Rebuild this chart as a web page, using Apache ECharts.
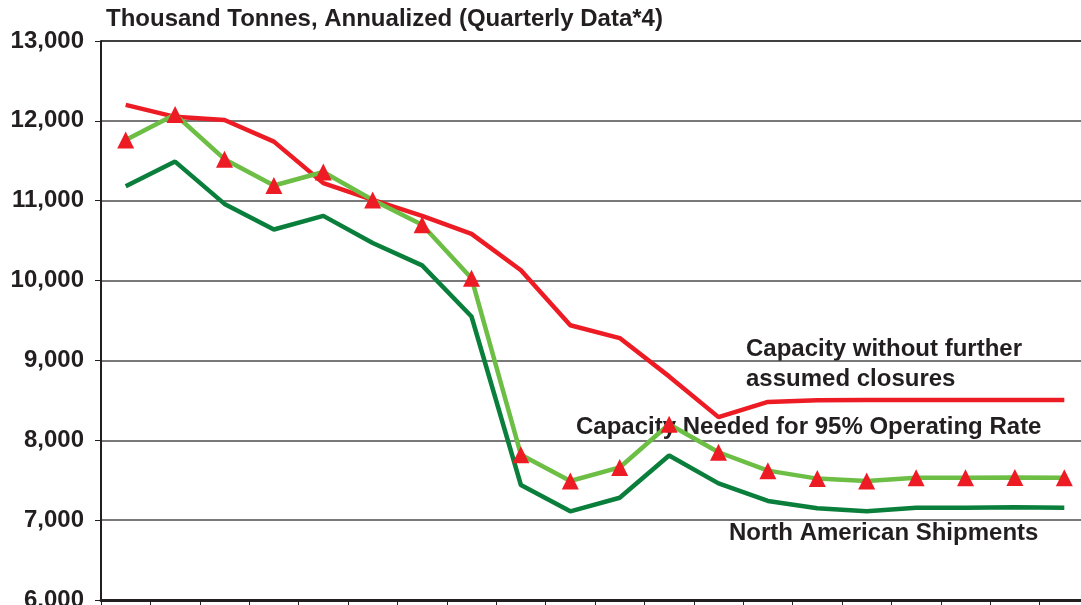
<!DOCTYPE html>
<html>
<head>
<meta charset="utf-8">
<script src="https://cdn.jsdelivr.net/npm/echarts@6/dist/echarts.min.js"></script>
<style>
  html, body { margin: 0; padding: 0; background: #fff; }
  #chart { width: 1081px; height: 605px; }
</style>
</head>
<body>
<div id="chart"></div>
<script>
// quarters (no labels shown in the source)
var quarters = ['Q1','Q2','Q3','Q4','Q5','Q6','Q7','Q8','Q9','Q10',
                'Q11','Q12','Q13','Q14','Q15','Q16','Q17','Q18','Q19','Q20'];

var capacity = [12200, 12050, 12010, 11740, 11220, 11010, 10810, 10585, 10130, 9440,
                9280, 8800, 8290, 8480, 8500, 8505, 8505, 8505, 8505, 8505];
var needed95 = [11760, 12080, 11520, 11190, 11360, 11010, 10700, 10030, 7820, 7490,
                7660, 8200, 7850, 7620, 7520, 7490, 7530, 7530, 7535, 7530];
var shipments = [11180, 11490, 10960, 10640, 10810, 10470, 10190, 9550, 7440, 7110,
                 7280, 7810, 7460, 7240, 7150, 7110, 7155, 7155, 7160, 7155];

var yTicks = [6000, 7000, 8000, 9000, 10000, 11000, 12000, 13000];

var dom = document.getElementById('chart');
var myChart = echarts.init(dom);
var font = '"Liberation Sans", Arial, sans-serif';

var option = {
    animation: false,
    backgroundColor: '#fff',
    grid: {
        left: 101,
        right: -8,
        top: 41,
        bottom: 5,
        outerBoundsMode: 'none'
    },
    xAxis: {
        type: 'category',
        data: quarters,
        boundaryGap: true,
        axisLine: { lineStyle: { color: '#231f20', width: 3 } },
        axisTick: { show: true, interval: 0, length: 6, lineStyle: { color: '#231f20' } },
        axisLabel: { show: false }
    },
    yAxis: {
        type: 'value',
        min: yTicks[0],
        max: yTicks[yTicks.length - 1],
        interval: 1000,
        axisLine: { show: true, lineStyle: { color: '#231f20', width: 2 } },
        axisTick: { show: true, length: 6, lineStyle: { color: '#231f20' } },
        splitLine: { lineStyle: { color: '#4d4d4d', width: 1.5 } },
        axisLabel: {
            margin: 17,
            color: '#231f20',
            fontFamily: font,
            fontWeight: 'bold',
            fontSize: 24,
            formatter: function (v) { return v.toLocaleString('en-US'); }
        }
    },
    graphic: [
        { type: 'text', left: 106, top: 7,
          style: { text: 'Thousand Tonnes, Annualized (Quarterly Data*4)', fill: '#231f20',
                   font: 'bold 24px ' + font, lineHeight: 24 } },
        { type: 'line', shape: { x1: 101, y1: 41, x2: 1081, y2: 41 },
          style: { stroke: '#231f20', lineWidth: 2 } },
        { type: 'text', left: 746, top: 334,
          style: { text: 'Capacity without further\nassumed closures', fill: '#231f20',
                   font: 'bold 24px ' + font, lineHeight: 30 } },
        { type: 'text', left: 576, top: 412,
          style: { text: 'Capacity Needed for 95% Operating Rate', fill: '#231f20',
                   font: 'bold 24px ' + font, lineHeight: 30 } },
        { type: 'text', left: 729, top: 518,
          style: { text: 'North American Shipments', fill: '#231f20',
                   font: 'bold 24px ' + font, lineHeight: 30 } }
    ],
    series: [
        {
            name: 'North American Shipments',
            type: 'line',
            data: shipments,
            symbol: 'none',
            lineStyle: { color: '#0a7f3c', width: 4.5 },
            z: 2
        },
        {
            name: 'Capacity without further assumed closures',
            type: 'line',
            data: capacity,
            symbol: 'none',
            lineStyle: { color: '#ed1c24', width: 4.5 },
            z: 3
        },
        {
            name: 'Capacity Needed for 95% Operating Rate',
            type: 'line',
            data: needed95,
            symbol: 'triangle',
            symbolSize: [17, 17],
            itemStyle: { color: '#ed1c24' },
            lineStyle: { color: '#6dbe45', width: 4.5 },
            z: 4
        }
    ]
};

if (option && typeof option === 'object') {
    myChart.setOption(option, true);
}
</script>
</body>
</html>
